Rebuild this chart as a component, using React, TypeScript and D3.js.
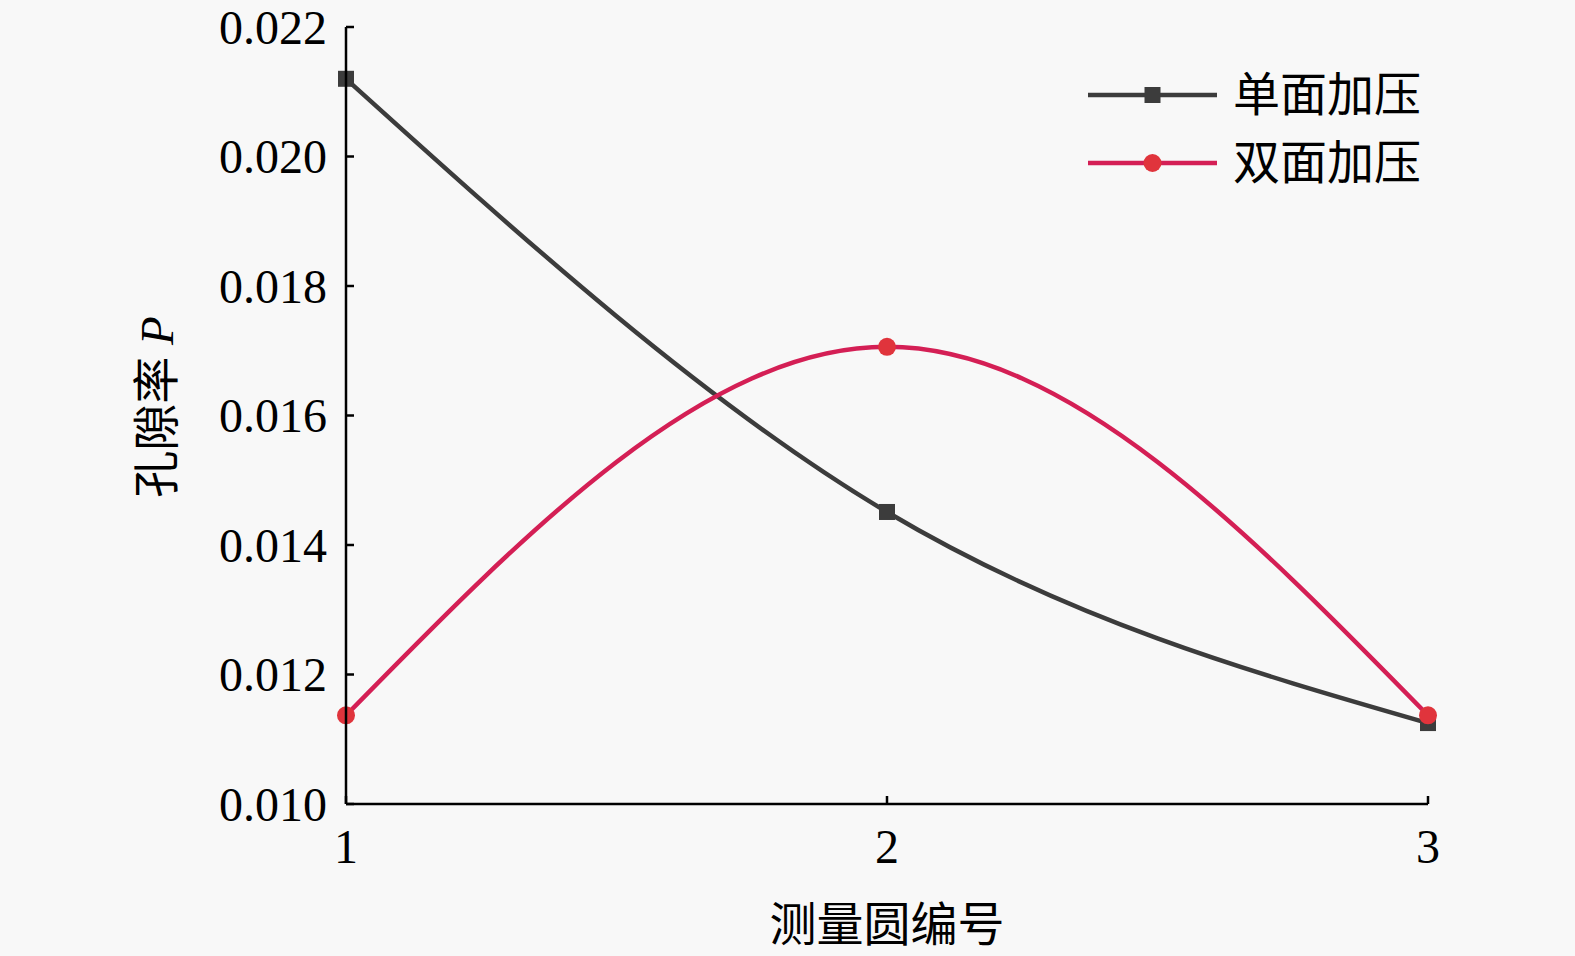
import React from "react";
import * as d3 from "d3";

// Measurement circle index on the x axis
const circles = [1, 2, 3];
// Porosity P for each loading mode
const singleFace = [0.0212, 0.01451, 0.01125];
const doubleFace = [0.01137, 0.01706, 0.01137];
const yTicks = [0.01, 0.012, 0.014, 0.016, 0.018, 0.02, 0.022];
const seriesNames = ["单面加压", "双面加压"];

const W = 1575;
const H = 956;
const left = 346;
const right = 1428;
const top = 27;
const bottom = 804;

const latin = "'Liberation Serif', 'Times New Roman', serif";
const cjk = "'Liberation Serif', 'Noto Sans CJK SC', serif";

export default function App() {
  const x = d3.scaleLinear().domain([1, 3]).range([left, right]);
  const y = d3.scaleLinear().domain([0.01, 0.022]).range([bottom, top]);

  const line = d3
    .line<number>()
    .x((_, i) => x(circles[i]))
    .y((d) => y(d))
    .curve(d3.curveNatural);

  const black = "#3c3c3c";
  const redLine = "#d41f55";
  const redMark = "#e0343c";
  const lw = 4.5;

  const legendX0 = 1088;
  const legendX1 = 1217;
  const legendMid = (legendX0 + legendX1) / 2;
  const legendY = [95, 163];

  return (
    <svg
      width={W}
      height={H}
      style={{ position: "absolute", left: 0, top: 0, background: "#f8f8f8" }}
    >
      <rect x={0} y={0} width={W} height={H} fill="#f8f8f8" />

      {/* series: single-face loading */}
      <path d={line(singleFace) ?? ""} fill="none" stroke={black} strokeWidth={lw} />
      {singleFace.map((v, i) => (
        <rect
          key={"s" + i}
          x={x(circles[i]) - 8}
          y={y(v) - 8}
          width={16}
          height={16}
          fill={black}
        />
      ))}

      {/* series: double-face loading */}
      <path d={line(doubleFace) ?? ""} fill="none" stroke={redLine} strokeWidth={lw} />
      {doubleFace.map((v, i) => (
        <circle key={"d" + i} cx={x(circles[i])} cy={y(v)} r={9} fill={redMark} />
      ))}

      {/* axes */}
      <line x1={left} x2={left} y1={top} y2={bottom} stroke="#000" strokeWidth={2.5} />
      <line x1={left} x2={right} y1={bottom} y2={bottom} stroke="#000" strokeWidth={2.5} />
      {yTicks.map((t) => (
        <g key={"yt" + t}>
          <line x1={left} x2={left + 8} y1={y(t)} y2={y(t)} stroke="#000" strokeWidth={2.5} />
          <text
            x={left - 19}
            y={y(t)}
            textAnchor="end"
            dominantBaseline="central"
            fontFamily={latin}
            fontSize={48}
            fill="#000"
          >
            {t.toFixed(3)}
          </text>
        </g>
      ))}
      {circles.map((c) => (
        <g key={"xt" + c}>
          <line x1={x(c)} x2={x(c)} y1={bottom} y2={bottom - 8} stroke="#000" strokeWidth={2.5} />
          <text
            x={x(c)}
            y={bottom + 42}
            textAnchor="middle"
            dominantBaseline="central"
            fontFamily={latin}
            fontSize={48}
            fill="#000"
          >
            {c}
          </text>
        </g>
      ))}

      {/* axis titles */}
      <text
        x={(left + right) / 2}
        y={925}
        textAnchor="middle"
        dominantBaseline="central"
        fontFamily={cjk}
        fontSize={47}
        fill="#000"
      >
        测量圆编号
      </text>
      <text
        transform={`translate(157, 407) rotate(-90)`}
        textAnchor="middle"
        dominantBaseline="central"
        fontFamily={cjk}
        fontSize={47}
        fill="#000"
      >
        孔隙率 <tspan fontStyle="italic" fontFamily={latin}>P</tspan>
      </text>

      {/* legend */}
      <line x1={legendX0} x2={legendX1} y1={legendY[0]} y2={legendY[0]} stroke={black} strokeWidth={lw} />
      <rect x={legendMid - 8} y={legendY[0] - 8} width={16} height={16} fill={black} />
      <text
        x={1233}
        y={legendY[0]}
        dominantBaseline="central"
        fontFamily={cjk}
        fontSize={47}
        fill="#000"
      >
        {seriesNames[0]}
      </text>
      <line x1={legendX0} x2={legendX1} y1={legendY[1]} y2={legendY[1]} stroke={redLine} strokeWidth={lw} />
      <circle cx={legendMid} cy={legendY[1]} r={9} fill={redMark} />
      <text
        x={1233}
        y={legendY[1]}
        dominantBaseline="central"
        fontFamily={cjk}
        fontSize={47}
        fill="#000"
      >
        {seriesNames[1]}
      </text>
    </svg>
  );
}
